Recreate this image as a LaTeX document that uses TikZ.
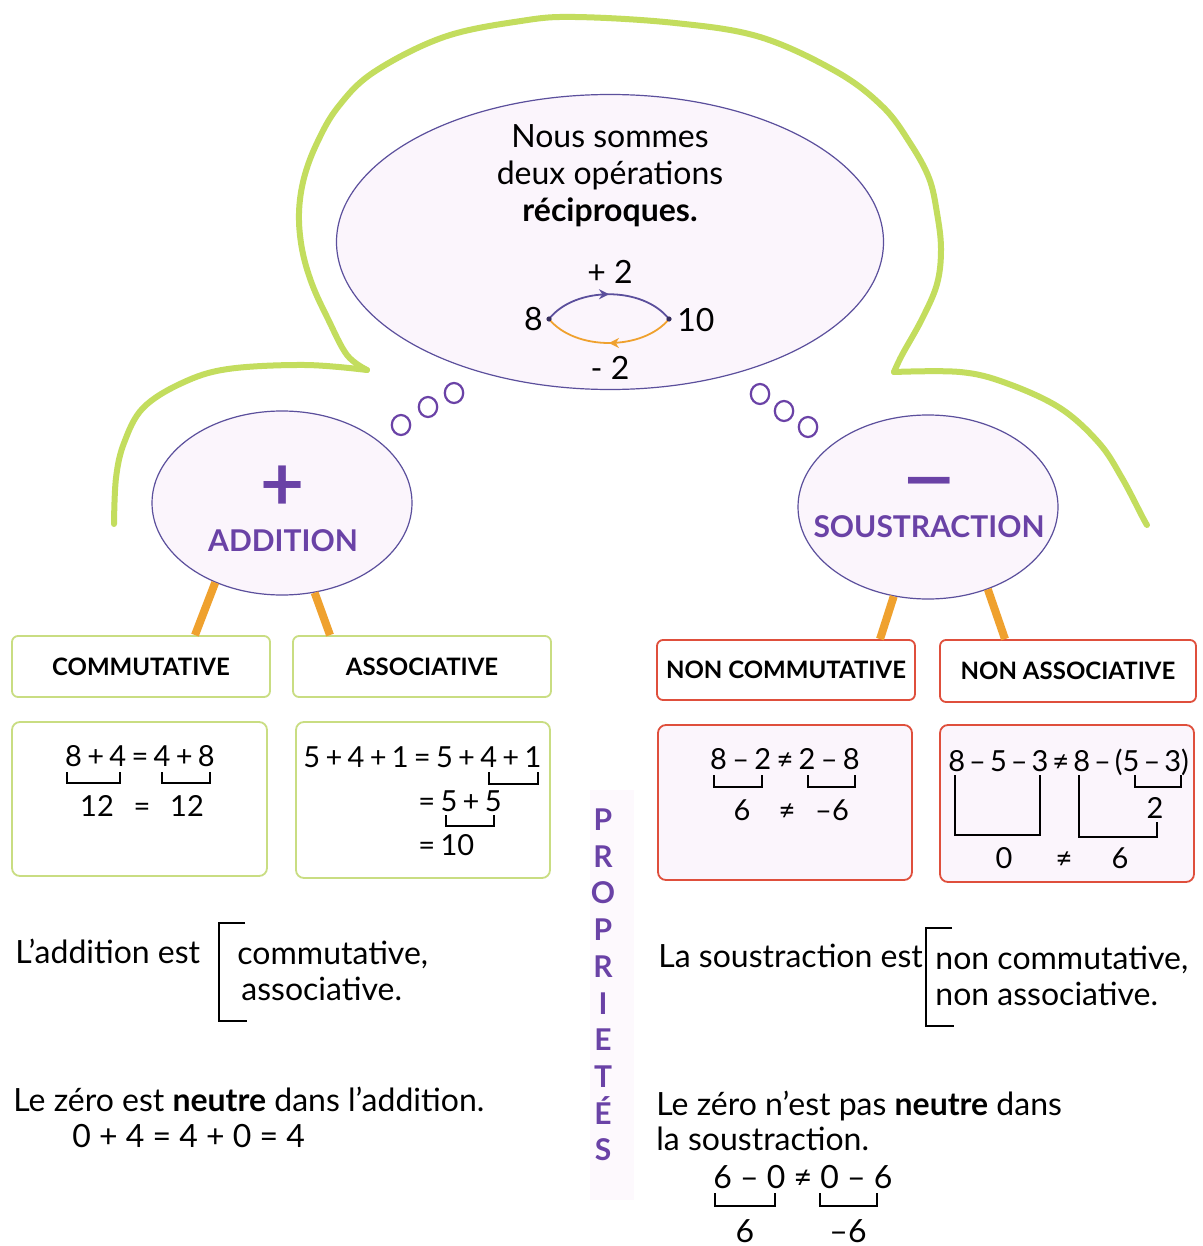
\documentclass[tikz,border=0pt]{standalone}
\usepackage{fontspec}
\setmainfont{Lato}
\usetikzlibrary{shapes.geometric,decorations.markings,calc,arrows.meta}
\definecolor{LimeGreen}{HTML}{C3DD5E}
\definecolor{OpPurple}{HTML}{6A42A6}
\definecolor{RingBlue}{HTML}{5B4F9C}
\definecolor{LegOrange}{HTML}{EFA12E}
\definecolor{BoxGreen}{HTML}{C9DD82}
\definecolor{BoxRed}{HTML}{DF4F3C}
\definecolor{Lavender}{HTML}{FBF5FC}

\newcommand{\bodysize}{\fontsize{16}{18.5}\selectfont}
\newcommand{\calcsize}{\fontsize{14.5}{17}\selectfont\spaceskip=2.65pt\relax}
\newcommand{\tightsize}{\fontsize{14.5}{17}\selectfont\spaceskip=2pt\relax}
\newcommand{\labsize}{\fontsize{12}{15}\selectfont}

\tikzset{
  cloud/.style={LimeGreen, line width=3pt, line cap=round, line join=round},
  bubble/.style={ellipse, draw=RingBlue, fill=Lavender, line width=0.6pt, inner sep=0pt},
  dotring/.style={OpPurple, line width=1.1pt},
  labelbox/.style={draw, rounded corners=3pt, line width=0.9pt, minimum width=129pt,
    minimum height=30.5pt, font=\labsize\bfseries, fill=white},
  examplebox/.style={draw, rounded corners=4pt, line width=0.9pt, fill=white},
  leg/.style={LegOrange, line width=4pt},
  expr/.style={font=\bodysize, inner sep=0pt},
  calc/.style={font=\calcsize, inner sep=0pt},
  brk/.style={line width=0.6pt},
  midarrow/.style={postaction={decorate}, decoration={markings,
    mark=at position 0.5 with {\arrow{Stealth[length=5pt,width=5pt]}}}}
}

\begin{document}
\begin{tikzpicture}[x=0.5pt,y=-0.5pt]
  \useasboundingbox (0,0) rectangle (1203,1246);
  \fill[white] (0,0) rectangle (1203,1246);

  % green outline
  \draw[cloud] plot[smooth, tension=0.6] coordinates {(114,524) (116,478) (124,443) (143,408)
    (182,383) (228,369) (305,365) (367,370)};
  \draw[cloud] plot[smooth, tension=0.6] coordinates {(367,370) (347,355) (328,319) (312,284)
    (302,249) (299,213) (304,178) (317,143) (338,107) (374,72) (444,37) (521,21) (575,17)
    (675,23) (760,37) (837,72) (883,107) (910,143) (929,178) (937,213) (941,249) (937,284)
    (922,319) (902,355) (894,372)};
  \draw[cloud] plot[smooth, tension=0.6] coordinates {(894,372) (960,372) (1006,383)
    (1060,408) (1099,443) (1122,478) (1143,518) (1147,525)};

  % the three bubbles
  \node[bubble, minimum width=273.5pt, minimum height=147.5pt] (recip) at (610,242) {};
  \node[bubble, minimum width=130pt, minimum height=92pt] (addition) at (282,503) {};
  \node[bubble, minimum width=130pt, minimum height=92pt] (soustr) at (928,507) {};

  \node[align=center, font=\bodysize] (slogan) at (610,176)
    {Nous sommes\\deux opérations\\\textbf{réciproques.}};

  \coordinate (p8) at (549,319);
  \coordinate (p10) at (669,319);
  \node[expr, anchor=base east] (huit) at ($(p8)+(-6,11)$) {8};
  \node[expr, anchor=base west] (dix) at ($(p10)+(8,12)$) {10};
  \node[expr, anchor=base] (plus2) at (610,283) {+ 2};
  \node[expr, anchor=base] (moins2) at (610,379) {- 2};
  \draw[RingBlue, line width=0.9pt, midarrow] (p8) .. controls (575,286) and (643,286) .. (p10);
  \draw[LegOrange, line width=0.9pt, midarrow] (p10) .. controls (643,351) and (575,351) .. (p8);
  \fill[RingBlue!60!black] (p8) circle (1.3pt) (p10) circle (1.3pt);

  % thought dots
  \draw[dotring] (401,425) circle[x radius=4.6pt, y radius=5pt];
  \draw[dotring] (428,407) circle[x radius=4.6pt, y radius=5pt];
  \draw[dotring] (454,393) circle[x radius=4.6pt, y radius=5pt];
  \draw[dotring] (760,394) circle[x radius=4.6pt, y radius=5pt];
  \draw[dotring] (784,411) circle[x radius=4.6pt, y radius=5pt];
  \draw[dotring] (808,427) circle[x radius=4.6pt, y radius=5pt];

  \node[OpPurple, font=\fontsize{38}{38}\selectfont\bfseries] (plussign) at (283,488) {+};
  \node[OpPurple, font=\fontsize{15}{18}\selectfont\bfseries, anchor=base] (addlab) at (283,551) {ADDITION};
  \node[OpPurple, font=\fontsize{38}{38}\selectfont\bfseries] (minussign) at (929,490) {\scalebox{1.35}[1]{–}};
  \node[OpPurple, font=\fontsize{15}{18}\selectfont\bfseries, anchor=base] (souslab) at (929,537) {SOUSTRACTION};

  % property boxes
  \node[labelbox, draw=BoxGreen] (commut) at (141,666.5) {COMMUTATIVE};
  \node[labelbox, draw=BoxGreen] (assoc) at (422,666.5) {ASSOCIATIVE};
  \node[labelbox, draw=BoxRed, minimum height=30pt] (ncommut) at (786,670) {NON COMMUTATIVE};
  \node[labelbox, draw=BoxRed, minimum width=128pt, minimum height=31pt] (nassoc) at (1068,671) {NON ASSOCIATIVE};

  \draw[leg] (addition.230) -- ($(commut.north)+(54,0)$);
  \draw[leg] (addition.290) -- ($(assoc.north)+(-92,0)$);
  \draw[leg] (soustr.249) -- ($(ncommut.north)+(94,0)$);
  \draw[leg] (soustr.306) -- ($(nassoc.north)+(-63,0)$);

  \node[examplebox, draw=BoxGreen, minimum width=127.5pt, minimum height=77pt] (excommut) at (139.5,799) {};
  \node[examplebox, draw=BoxGreen, minimum width=127pt, minimum height=78pt] (exassoc) at (423,800) {};
  \node[examplebox, draw=BoxRed, fill=Lavender, minimum width=127pt, minimum height=77.5pt] (exncommut) at (785,802.5) {};
  \node[examplebox, draw=BoxRed, fill=Lavender, minimum width=127pt, minimum height=78.5pt] (exnassoc) at (1067,803.5) {};

  % commutative example
  \node[calc, anchor=base] (c1) at (140,766) {8 + 4 = 4 + 8};
  \draw[brk] (67,772) |- (120,783) -- (120,772);
  \draw[brk] (162,772) |- (210,783) -- (210,772);
  \node[calc, anchor=base] (c2) at (97,816) {12};
  \node[calc, anchor=base] (c3) at (142,816) {=};
  \node[calc, anchor=base] (c4) at (187,816) {12};

  % associative example
  \node[calc, anchor=base west] (a1) at (303,767) {5 + 4 + 1 = 5 + 4 + 1};
  \draw[brk] (489,772) |- (538,784) -- (538,772);
  \node[calc, anchor=base west] (a2) at (418,811) {= 5 + 5};
  \draw[brk] (446,815) |- (494,826) -- (494,815);
  \node[calc, anchor=base west] (a3) at (418,855) {= 10};

  % non commutative example
  \node[calc, anchor=base] (n1) at (785,769) {8 – 2 ≠ 2 – 8};
  \draw[brk] (714,775) |- (762,787) -- (762,775);
  \draw[brk] (808,775) |- (855,787) -- (855,775);
  \node[calc, anchor=base] (n2) at (742,820) {6};
  \node[calc, anchor=base] (n3) at (787,820) {≠};
  \node[calc, anchor=base] (n4) at (832,820) {–6};

  % non associative example
  \node[calc, font=\tightsize, anchor=base west] (s1) at (948,771) {8 – 5 – 3 ≠ 8 – (5 – 3)};
  \draw[brk] (1135,775) |- (1181,787) -- (1181,775);
  \node[calc, anchor=base] (s2) at (1155,818) {2};
  \draw[brk] (955,775) |- (1040,835) -- (1040,775);
  \draw[brk] (1079,775) |- (1157,837) -- (1157,822);
  \node[calc, anchor=base] (s3) at (1004,868) {0};
  \node[calc, anchor=base] (s4) at (1064,868) {≠};
  \node[calc, anchor=base] (s5) at (1120,868) {6};

  % middle column
  \fill[Lavender!60!white] (590,790) rectangle (634,1200);
  \node[OpPurple, align=center, font=\fontsize{15}{18.35}\selectfont\bfseries] (props) at (603,985)
    {P\\R\\O\\P\\R\\I\\E\\T\\É\\S};

  % addition text
  \node[expr, anchor=base west] (t1) at (15,963) {L'addition est};
  \draw[brk] (245,923) -- (219,923) -- (219,1021) -- (247,1021);
  \node[expr, anchor=base west] (t2) at (237,964) {commutative,};
  \node[expr, anchor=base west] (t3) at (241,1000) {associative.};
  \node[expr, anchor=base west] (t4) at (13,1111) {Le zéro est \textbf{neutre} dans l'addition.};
  \node[expr, anchor=base west] (t5) at (72,1147) {0 + 4 = 4 + 0 = 4};

  % soustraction text
  \node[expr, anchor=base west] (u1) at (658,967) {La soustraction est};
  \draw[brk] (952,928) -- (926,928) -- (926,1026) -- (954,1026);
  \node[expr, anchor=base west] (u2) at (935,969) {non commutative,};
  \node[expr, anchor=base west] (u3) at (935,1005) {non associative.};
  \node[expr, anchor=base west] (u4) at (656,1115) {Le zéro n'est pas \textbf{neutre} dans};
  \node[expr, anchor=base west] (u5) at (656,1150) {la soustraction.};
  \node[expr, anchor=base west] (u6) at (713,1188) {6 – 0 ≠ 0 – 6};
  \draw[brk] (715,1193) |- (775,1206) -- (775,1193);
  \draw[brk] (820,1193) |- (877,1206) -- (877,1193);
  \node[expr, anchor=base] (u7) at (745,1242) {6};
  \node[expr, anchor=base] (u8) at (848,1242) {–6};
\end{tikzpicture}
\end{document}
